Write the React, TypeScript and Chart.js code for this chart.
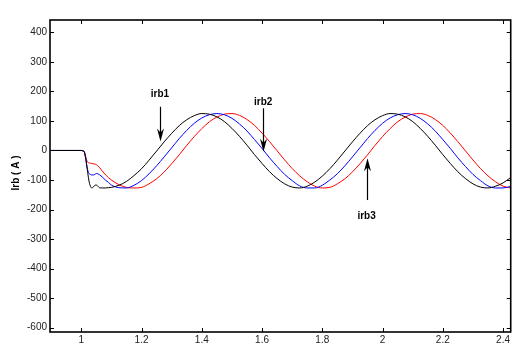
import React, { useEffect, useRef } from 'react';
import { Chart, registerables } from 'chart.js';

Chart.register(...registerables);

// time axis (s)
const times = [
  0.9, 0.95, 1.0, 1.005, 1.01, 1.015, 1.02, 1.025, 1.03, 1.035, 1.04, 1.045, 1.05, 1.055, 1.06, 1.07, 1.08, 1.09,
  1.1, 1.125, 1.15, 1.175, 1.2, 1.225, 1.25, 1.275, 1.3, 1.325, 1.35, 1.375, 1.4, 1.425, 1.45, 1.475,
  1.5, 1.525, 1.55, 1.575, 1.6, 1.625, 1.65, 1.675, 1.7, 1.725, 1.75, 1.775, 1.8, 1.825, 1.85, 1.875,
  1.9, 1.925, 1.95, 1.975, 2.0, 2.025, 2.05, 2.075, 2.1, 2.125, 2.15, 2.175, 2.2, 2.225, 2.25, 2.275,
  2.3, 2.325, 2.35, 2.375, 2.4, 2.425,
];

const irb1 = [
  0, 0, 0, -1, -5, -30, -65, -100, -120, -127, -124, -118, -117, -121, -126, -127, -127, -126,
  -125, -118, -105, -85, -62, -33, -2, 29, 58, 84, 104, 118, 125, 123, 114, 98,
  75, 48, 18, -14, -44, -72, -95, -113, -124, -127, -121, -107, -87, -62, -33, -2,
  29, 58, 84, 104, 118, 125, 123, 114, 98, 75, 48, 18, -14, -44, -72, -95,
  -113, -124, -127, -121, -110, -92,
];

const irb2 = [
  0, 0, 0, -1, -5, -28, -60, -77, -81, -83, -83, -81, -78, -79, -82, -90, -100, -108,
  -117, -126, -127, -118, -102, -79, -52, -22, 9, 40, 68, 92, 110, 121, 125, 121,
  109, 90, 66, 37, 7, -25, -54, -81, -102, -120, -127, -127, -118, -100, -79, -52,
  -22, 9, 40, 68, 92, 110, 121, 125, 121, 109, 90, 66, 37, 7, -25, -54,
  -81, -102, -120, -127, -127, -122,
];

const irb3 = [
  0, 0, 0, -1, -4, -22, -38, -42, -43, -44, -45, -46, -48, -52, -57, -70, -82, -92,
  -100, -116, -125, -127, -125, -113, -96, -73, -45, -15, 17, 47, 74, 97, 113, 123,
  125, 119, 105, 85, 59, 30, -1, -32, -61, -86, -106, -121, -127, -125, -113, -96,
  -73, -45, -15, 17, 47, 74, 97, 113, 123, 125, 119, 105, 85, 59, 30, -1,
  -32, -61, -86, -106, -121, -127,
];

const seriesNames = ['irb1', 'irb2', 'irb3'];
const seriesColors = ['#000000', '#0000ff', '#ff0000'];

const xTicks = [1, 1.2, 1.4, 1.6, 1.8, 2, 2.2, 2.4];
const xTickLabels = ['1', '1.2', '1.4', '1.6', '1.8', '2', '2.2', '2.4'];
const yTicks = [-600, -500, -400, -300, -200, -100, 0, 100, 200, 300, 400];
const yTickLabels = ['-600', '-500', '-400', '-300', '-200', '-100', '0', '100', '200', '300', '400'];
const yTitle = 'Irb ( A )';

// annotation arrows (data coordinates)
const noteLabels = ['irb1', 'irb2', 'irb3'];
const noteX = [1.261, 1.604, 1.947];
const noteTextY = [182, 154, -233];
const noteFromY = [148, 143, -168];
const noteToY = [30, -4, -26];

const FONT = '"Liberation Sans", Arial, Helvetica, sans-serif';

const framePlugin = {
  id: 'frame',
  afterDraw(chart: any) {
    const ctx = chart.ctx;
    const a = chart.chartArea;
    const xs = chart.scales.x;
    const ys = chart.scales.y;
    ctx.save();
    // inward ticks
    ctx.strokeStyle = '#000';
    ctx.lineWidth = 1;
    ctx.beginPath();
    xTicks.forEach((v) => {
      const px = Math.round(xs.getPixelForValue(v)) + 0.5;
      ctx.moveTo(px, a.bottom);
      ctx.lineTo(px, a.bottom - 4);
      ctx.moveTo(px, a.top);
      ctx.lineTo(px, a.top + 4);
    });
    yTicks.forEach((v) => {
      const py = Math.round(ys.getPixelForValue(v)) + 0.5;
      ctx.moveTo(a.left, py);
      ctx.lineTo(a.left + 4, py);
      ctx.moveTo(a.right, py);
      ctx.lineTo(a.right - 4, py);
    });
    ctx.stroke();
    // frame
    ctx.lineWidth = 1.6;
    ctx.strokeRect(a.left, a.top, a.right - a.left, a.bottom - a.top);

    // annotations
    ctx.fillStyle = '#000';
    ctx.font = 'bold 10px ' + FONT;
    ctx.textAlign = 'center';
    ctx.textBaseline = 'alphabetic';
    noteLabels.forEach((label, i) => {
      const px = xs.getPixelForValue(noteX[i]);
      ctx.fillText(label, px, ys.getPixelForValue(noteTextY[i]));
      const y0 = ys.getPixelForValue(noteFromY[i]);
      const y1 = ys.getPixelForValue(noteToY[i]);
      const dir = y1 > y0 ? 1 : -1;
      const x = Math.round(px) + 0.5;
      ctx.lineWidth = 1.2;
      ctx.beginPath();
      ctx.moveTo(x, y0);
      ctx.lineTo(x, y1 - dir * 8);
      ctx.stroke();
      ctx.beginPath();
      ctx.moveTo(x, y1);
      ctx.lineTo(x - 3.5, y1 - dir * 13);
      ctx.lineTo(x, y1 - dir * 9);
      ctx.lineTo(x + 3.5, y1 - dir * 13);
      ctx.closePath();
      ctx.fill();
    });

    // y title
    ctx.save();
    ctx.translate(16, (a.top + a.bottom) / 2 - 3);
    ctx.rotate(-Math.PI / 2);
    ctx.textAlign = 'center';
    ctx.textBaseline = 'middle';
    ctx.font = 'bold 10px ' + FONT;
    ctx.fillText(yTitle, 0, 0);
    ctx.restore();
    ctx.restore();
  },
};

export default function App() {
  const ref = useRef<HTMLCanvasElement | null>(null);
  useEffect(() => {
    if (!ref.current) return;
    const seriesData = [irb1, irb2, irb3];
    const chart = new Chart(ref.current, {
      type: 'line',
      data: {
        datasets: seriesNames.map((name, i) => ({
          label: name,
          data: times.map((t, j) => ({ x: t, y: seriesData[i][j] })),
          borderColor: seriesColors[i],
          backgroundColor: seriesColors[i],
          borderWidth: 1,
          pointRadius: 0,
          fill: false,
          cubicInterpolationMode: 'monotone',
        })),
      },
      options: {
        animation: false,
        responsive: false,
        devicePixelRatio: 1,
        layout: { padding: { top: 20, right: 1, left: 0, bottom: 0 } },
        plugins: { legend: { display: false }, tooltip: { enabled: false } },
        scales: {
          x: {
            type: 'linear',
            min: 0.8962,
            max: 2.4255,
            afterBuildTicks: (s: any) => {
              s.ticks = xTicks.map((v) => ({ value: v }));
            },
            afterFit: (s: any) => {
              s.height = 12;
            },
            grid: { display: false, drawTicks: false },
            border: { display: false },
            ticks: {
              padding: 2,
              autoSkip: false,
              maxRotation: 0,
              color: '#222',
              font: { size: 10, family: FONT },
              callback: (_v: any, i: number) => xTickLabels[i],
            },
          },
          y: {
            type: 'linear',
            min: -615,
            max: 442,
            afterBuildTicks: (s: any) => {
              s.ticks = yTicks.map((v) => ({ value: v }));
            },
            afterFit: (s: any) => {
              s.width = 50;
            },
            grid: { display: false, drawTicks: false },
            border: { display: false },
            ticks: {
              padding: 3,
              autoSkip: false,
              color: '#222',
              font: { size: 10, family: FONT },
              callback: (_v: any, i: number) => yTickLabels[i],
            },
          },
        },
      },
      plugins: [framePlugin],
    } as any);
    return () => chart.destroy();
  }, []);
  return (
    <div style={{ position: 'fixed', left: 0, top: 0, width: 512, height: 344, background: '#fff' }}>
      <canvas ref={ref} width={512} height={344} style={{ display: 'block', width: 512, height: 344 }} />
    </div>
  );
}
